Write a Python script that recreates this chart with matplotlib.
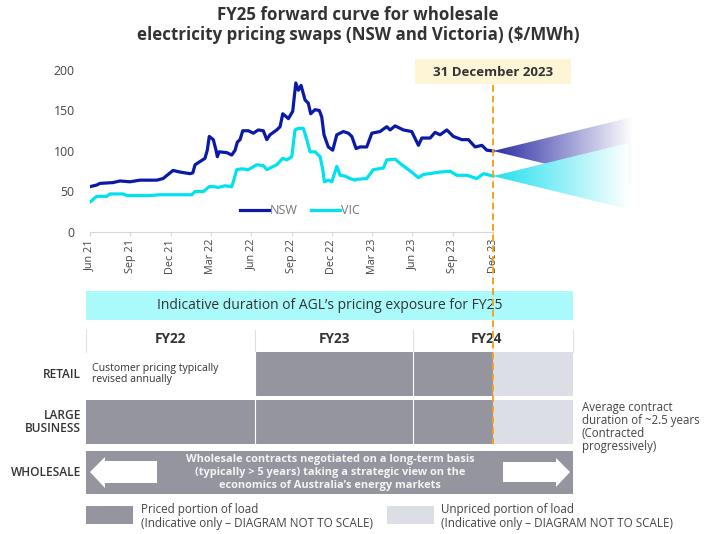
import numpy as np
import matplotlib
matplotlib.use("Agg")
import matplotlib.pyplot as plt
from matplotlib.patches import Rectangle, Polygon
from matplotlib.colors import LinearSegmentedColormap

plt.rcParams['font.family'] = ['Open Sans', 'DejaVu Sans']

# months since Jun 2021 and $/MWh
nsw_month = [0.0, 0.5, 0.74, 1.71, 2.23, 2.98, 3.72, 4.97, 5.44, 5.81, 6.18, 6.70, 7.45, 7.65,
             7.82, 8.19, 8.56, 8.73, 8.88, 9.18, 9.38, 9.48, 9.61, 10.18, 10.55, 10.80, 10.97,
             11.17, 11.37, 11.79, 12.16, 12.53, 12.90, 13.16, 13.40, 13.90, 14.15, 14.35, 14.77,
             15.09, 15.32, 15.51, 15.71, 16.01, 16.25, 16.43, 16.75, 17.07, 17.25, 17.42, 17.74,
             18.07, 18.37, 18.86, 19.23, 19.49, 19.81, 20.10, 20.60, 20.98, 21.59, 22.09, 22.34,
             22.71, 23.33, 23.95, 24.45, 24.70, 25.32, 25.69, 26.06, 26.56, 27.05, 27.68, 28.17,
             28.67, 29.17, 29.54, 30.0]
nsw_price = [56, 58, 60, 61, 63, 62, 64, 64, 66, 71, 76, 74, 72, 73,
             83, 87, 91, 101, 118, 114, 101, 93, 99, 98, 95, 101, 111,
             114, 125, 125, 122, 126, 125, 114, 120, 126, 130, 146, 140,
             149, 184, 175, 181, 163, 159, 146, 151, 150, 142, 120, 105,
             101, 120, 124, 122, 118, 103, 105, 105, 122, 124, 130, 126,
             131, 126, 124, 107, 116, 116, 123, 120, 126, 118, 114, 114,
             105, 107, 101, 100]

vic_month = [0.0, 0.50, 1.24, 1.49, 2.48, 2.73, 4.47, 5.21, 6.46, 7.57, 7.82, 8.44, 8.88, 9.18,
             9.55, 10.05, 10.55, 10.67, 10.92, 11.30, 11.79, 12.41, 12.90, 13.16, 13.90, 14.35,
             14.65, 15.02, 15.26, 15.51, 15.88, 16.14, 16.38, 16.75, 17.13, 17.33, 17.45, 17.74,
             18.00, 18.37, 18.62, 18.99, 19.36, 19.73, 19.86, 20.60, 21.09, 21.84, 22.09, 22.71,
             23.21, 23.95, 24.45, 24.82, 26.06, 26.81, 27.30, 28.05, 28.79, 29.29, 30.0]
vic_price = [37, 44, 44, 47, 47, 45, 45, 46, 46, 46, 50, 50, 56, 56,
             55, 57, 56, 62, 77, 78, 77, 83, 82, 77, 83, 91,
             89, 93, 126, 128, 128, 114, 99, 99, 93, 77, 62, 64,
             62, 81, 70, 69, 66, 64, 65, 66, 77, 79, 89, 90,
             83, 74, 67, 71, 74, 75, 70, 70, 66, 72, 69]

# forward curve fans: (start month, start price, end month, low, high)
nsw_fan = (30.0, 100, 40.4, 58, 142)
vic_fan = (30.0, 69, 40.1, 28, 110)

tick_months = [0, 3, 6, 9, 12, 15, 18, 21, 24, 27, 30]
tick_labels = ['Jun 21', 'Sep 21', 'Dec 21', 'Mar 22', 'Jun 22', 'Sep 22', 'Dec 22',
               'Mar 23', 'Jun 23', 'Sep 23', 'Dec 23']

fy_labels = ['FY22', 'FY23', 'FY24']
row_labels = ['RETAIL', 'LARGE\nBUSINESS', 'WHOLESALE']

NSW_C = '#0a1aa6'
VIC_C = '#00e2f0'
GRAY = '#94959f'
LIGHT = '#dcdee6'
ORANGE = '#f5a31e'
TXT = '#333333'

W, H = 716, 534
fig = plt.figure(figsize=(W / 100, H / 100), dpi=100)

# chart axes: Jun 21 at x=90px, 0 at y=232px
px_month = 403 / 30
x_max = 46
ax = fig.add_axes([90 / W, (H - 232) / H, x_max * px_month / W, 162 / H])
ax.plot(nsw_month, nsw_price, color=NSW_C, lw=2.3, label='NSW', zorder=3, solid_joinstyle='round')
ax.plot(vic_month, vic_price, color=VIC_C, lw=2.3, label='VIC', zorder=3, solid_joinstyle='round')


def fan(ax, spec, color, z):
    x0, y0, x1, ylo, yhi = spec
    poly = Polygon([[x0, y0], [x1, yhi], [x1, ylo]], closed=True, facecolor='none', edgecolor='none')
    ax.add_patch(poly)
    grad = np.linspace(0, 1, 256).reshape(1, -1)
    cmap = LinearSegmentedColormap.from_list('fan', [color, 'white'])
    im = ax.imshow(grad, extent=[x0, x1, ylo, yhi], aspect='auto', cmap=cmap,
                   origin='lower', zorder=z, interpolation='bilinear')
    im.set_clip_path(poly)


fan(ax, nsw_fan, '#2b2ba3', 1)
fan(ax, vic_fan, '#22e0ee', 2)

ax.set_xlim(0, x_max)
ax.set_ylim(0, 200)
ax.set_yticks([0, 50, 100, 150, 200])
ax.set_xticks(tick_months)
ax.set_xticklabels(tick_labels, rotation=90)
for s in ['top', 'right', 'left']:
    ax.spines[s].set_visible(False)
ax.spines['bottom'].set_color('#d6d6d6')
ax.spines['bottom'].set_bounds(0, 30)
ax.tick_params(axis='y', length=0, pad=11, labelsize=8.8, labelcolor='#444444')
ax.tick_params(axis='x', length=3, color='#d6d6d6', labelsize=7.8, labelcolor='#444444', pad=2)
ax.set_facecolor('none')
ax.legend(loc='center', bbox_to_anchor=(300 / W, 1 - 211 / H), bbox_transform=fig.transFigure,
          ncol=2, frameon=False, handlelength=2.3, handletextpad=0.1, columnspacing=1.1,
          fontsize=9, labelcolor='#777777')

# overlay in pixel units for the title and the diagram
ov = fig.add_axes([0, 0, 1, 1])
ov.set_xlim(0, W)
ov.set_ylim(H, 0)
ov.axis('off')
ov.patch.set_visible(False)

now_x = ax.transData.transform((30, 0))[0] * W / fig.bbox.width

ov.text(358, 25, 'FY25 forward curve for wholesale\nelectricity pricing swaps (NSW and Victoria) ($/MWh)',
        ha='center', va='center', fontsize=12.2, fontweight='bold', color=TXT, linespacing=1.1)

ov.add_patch(Rectangle((415, 59), 156, 25, facecolor='#fdf5d6', edgecolor='none'))
ov.text(now_x, 72, '31 December 2023', ha='center', va='center', fontsize=9.5,
        fontweight='bold', color=TXT)

# banner
ov.add_patch(Rectangle((86, 291), 487, 29, facecolor='#aaf9fb', edgecolor='none'))
ov.text(330, 305.5, 'Indicative duration of AGL\u2019s pricing exposure for FY25', ha='center',
        va='center', fontsize=10, color=TXT)

col_edges = [86, 255, 413, 573]
for i, lab in enumerate(fy_labels):
    cx = (col_edges[i] + col_edges[i + 1]) / 2
    if i == 2:
        cx = 487
    ov.text(cx, 339, lab, ha='center', va='center', fontsize=9.8, fontweight='bold', color=TXT)
for x in col_edges:
    ov.plot([x, x], [330, 352], color='#e0e0e0', lw=0.8)

rows = [(352, 396), (400, 444), (451, 494)]
# retail
ov.add_patch(Rectangle((255, rows[0][0]), now_x - 255, 44, facecolor=GRAY, edgecolor='none'))
ov.add_patch(Rectangle((now_x, rows[0][0]), 573 - now_x, 44, facecolor=LIGHT, edgecolor='none'))
ov.text(92, 374, 'Customer pricing typically\nrevised annually', ha='left', va='center',
        fontsize=7.6, color=TXT, linespacing=1.08)
# large business
ov.add_patch(Rectangle((86, rows[1][0]), now_x - 86, 44, facecolor=GRAY, edgecolor='none'))
ov.add_patch(Rectangle((now_x, rows[1][0]), 573 - now_x, 44, facecolor=LIGHT, edgecolor='none'))
for x in [255, 413]:
    ov.plot([x, x], [352, 444], color='white', lw=0.8)
# wholesale
ov.add_patch(Rectangle((86, rows[2][0]), 487, 43, facecolor=GRAY, edgecolor='none'))
ov.add_patch(Polygon([[90, 472], [105, 457], [105, 461], [157, 461], [157, 483], [105, 483],
                      [105, 488]], facecolor='white', edgecolor='none'))
ov.add_patch(Polygon([[570, 472], [556, 458], [556, 462], [503, 462], [503, 482], [556, 482],
                      [556, 487]], facecolor='white', edgecolor='none'))
ov.text(330, 472.5, 'Wholesale contracts negotiated on a long-term basis\n(typically > 5 years) taking a strategic view on the\neconomics of Australia\u2019s energy markets',
        ha='center', va='center', fontsize=7.9, fontweight='bold', color='#f4f4f4', linespacing=1.3)

for (y0, y1), lab in zip(rows, row_labels):
    ov.text(81, (y0 + y1) / 2, lab, ha='right', va='center', fontsize=8.6, fontweight='semibold',
            color=TXT, linespacing=1.0)

ov.text(582, 427, 'Average contract\nduration of ~2.5 years\n(Contracted\nprogressively)', ha='left',
        va='center', fontsize=8.3, color='#444444', linespacing=1.0)

# key
ov.add_patch(Rectangle((86, 506), 47, 18, facecolor=GRAY, edgecolor='none'))
ov.text(141, 516.5, 'Priced portion of load\n(Indicative only \u2013 DIAGRAM NOT TO SCALE)', ha='left',
        va='center', fontsize=8.4, color='#444444', linespacing=1.05)
ov.add_patch(Rectangle((387, 506), 47, 18, facecolor=LIGHT, edgecolor='none'))
ov.text(441, 516.5, 'Unpriced portion of load\n(Indicative only \u2013 DIAGRAM NOT TO SCALE)', ha='left',
        va='center', fontsize=8.4, color='#444444', linespacing=1.05)

# today marker
ov.plot([now_x, now_x], [85, 444], color=ORANGE, lw=1.4, ls=(0, (3.5, 2.0)), zorder=5)

fig.savefig('out.png', dpi=100)
